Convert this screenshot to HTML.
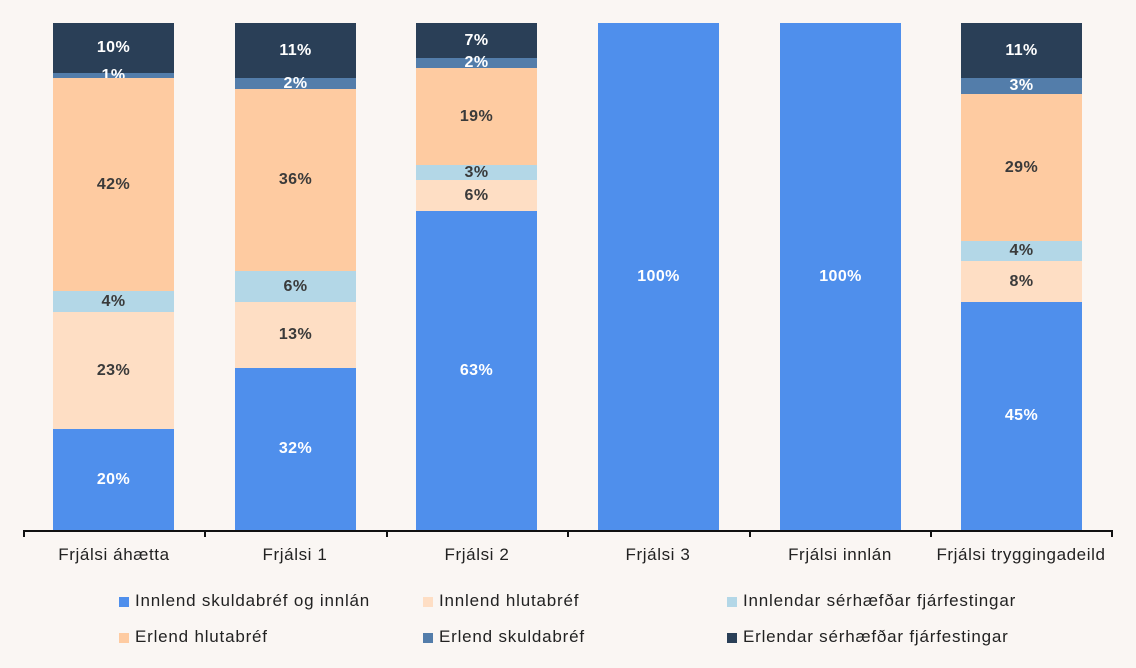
<!DOCTYPE html>
<html><head><meta charset="utf-8"><style>
body{margin:0;width:1136px;height:668px;background:#faf6f3;position:relative;overflow:hidden;font-family:"Liberation Sans",sans-serif}
.s{position:absolute;display:flex;align-items:center;justify-content:center;font-weight:bold;font-size:16px;letter-spacing:0.4px;overflow:visible;white-space:nowrap}
.w{color:#fff}.d{color:#3a3a3a}
.c{position:absolute;top:545px;font-size:17px;letter-spacing:0.6px;color:#222;text-align:center;width:182px;white-space:nowrap}
.lg{position:absolute;font-size:17px;letter-spacing:0.8px;color:#222;white-space:nowrap}
.lg i{position:absolute;left:-16px;top:6px;width:10px;height:10px}
.tk{position:absolute;top:531px;width:2px;height:6px;background:#111}
</style></head><body>
<div id="bars"></div>
<div style="position:absolute;left:23px;top:530px;width:1090px;height:2px;background:#111"></div>
<div class="tk" style="left:23px"></div><div class="tk" style="left:204px"></div><div class="tk" style="left:386px"></div><div class="tk" style="left:567px"></div><div class="tk" style="left:749px"></div><div class="tk" style="left:930px"></div><div class="tk" style="left:1111px"></div>
<div class="c" style="left:23px">Frjálsi áhætta</div>
<div class="c" style="left:204px">Frjálsi 1</div>
<div class="c" style="left:386px">Frjálsi 2</div>
<div class="c" style="left:567px">Frjálsi 3</div>
<div class="c" style="left:749px">Frjálsi innlán</div>
<div class="c" style="left:930px">Frjálsi tryggingadeild</div>
<div class="lg" style="left:135px;top:591px"><i style="background:#4f8fec"></i>Innlend skuldabréf og innlán</div>
<div class="lg" style="left:439px;top:591px"><i style="background:#fedec4"></i>Innlend hlutabréf</div>
<div class="lg" style="left:743px;top:591px"><i style="background:#b3d7e7"></i>Innlendar sérhæfðar fjárfestingar</div>
<div class="lg" style="left:135px;top:627px"><i style="background:#fecba1"></i>Erlend hlutabréf</div>
<div class="lg" style="left:439px;top:627px"><i style="background:#537daa"></i>Erlend skuldabréf</div>
<div class="lg" style="left:743px;top:627px"><i style="background:#2a3f57"></i>Erlendar sérhæfðar fjárfestingar</div>
<script>
var C=['#2a3f57','#537daa','#fecba1','#b3d7e7','#fedec4','#4f8fec'],T=['w','w','d','d','d','w'];
var B=[[53,[23,73,78,291,312,429,530],['10%','1%','42%','4%','23%','20%']],
[235,[23,78,89,271,302,368,530],['11%','2%','36%','6%','13%','32%']],
[416,[23,58,68,165,180,211,530],['7%','2%','19%','3%','6%','63%']],
[598,[23,23,23,23,23,23,530],['','','','','','100%']],
[780,[23,23,23,23,23,23,530],['','','','','','100%']],
[961,[23,78,94,241,261,302,530],['11%','3%','29%','4%','8%','45%']]];
var h='';B.forEach(function(b){for(var i=0;i<6;i++){var t=b[1][i],e=b[1][i+1];if(e<=t)continue;
h+='<div class="s '+T[i]+'" style="left:'+b[0]+'px;top:'+t+'px;width:121px;height:'+(e-t)+'px;background:'+C[i]+'">'+b[2][i]+'</div>';}});
document.getElementById('bars').innerHTML=h;
</script>
</body></html>
